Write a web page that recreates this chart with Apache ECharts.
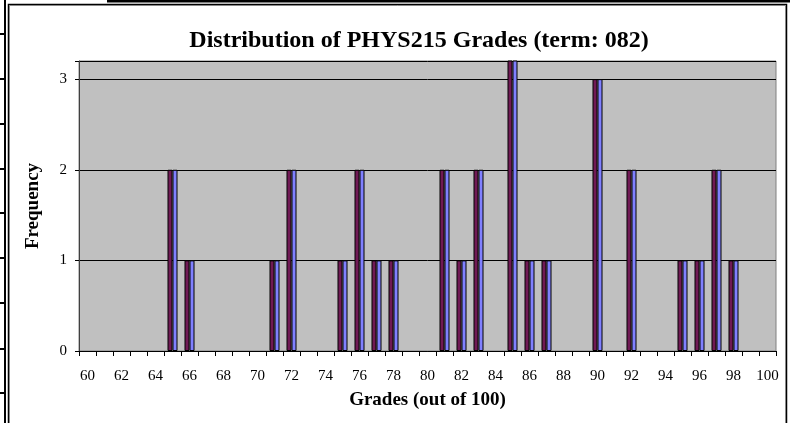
<!DOCTYPE html>
<html>
<head>
<meta charset="utf-8">
<script src="https://cdn.jsdelivr.net/npm/echarts@6/dist/echarts.min.js"></script>
<style>html,body{margin:0;padding:0;background:#fff;}#c{width:790px;height:423px;}</style>
</head>
<body>
<div id="c"></div>
<script>
var categories = ['60','61','62','63','64','65','66','67','68','69','70','71','72','73','74','75','76','77','78','79','80','81','82','83','84','85','86','87','88','89','90','91','92','93','94','95','96','97','98','99','100'];
var grades = [65, 66, 71, 72, 75, 76, 77, 78, 81, 82, 83, 85, 86, 87, 90, 92, 95, 96, 97, 98];
var counts = [2, 1, 1, 2, 1, 2, 1, 1, 2, 1, 2, 4, 1, 1, 3, 2, 1, 1, 2, 1];
var yTicks = [0, 1, 2, 3];

var freq = categories.map(function (c) {
  var i = grades.indexOf(Number(c));
  return i >= 0 ? counts[i] : '-';
});

var serif = 'Liberation Serif, Times New Roman, serif';
var chart = echarts.init(document.getElementById('c'));

var stubs = [];
[34, 79, 124, 169, 213, 258, 303, 349, 393].forEach(function (y) {
  stubs.push({ type: 'line', shape: { x1: 0, y1: y, x2: 5, y2: y }, style: { stroke: '#000', lineWidth: 2 } });
});

chart.setOption({
  animation: false,
  title: {
    text: 'Distribution of PHYS215 Grades (term: 082)',
    left: 414, top: 24, textAlign: 'center',
    textStyle: { fontFamily: serif, fontSize: 24, fontWeight: 'bold', color: '#000' }
  },
  graphic: [
    { type: 'line', shape: { x1: 5, y1: 0, x2: 5, y2: 423 }, style: { stroke: '#000', lineWidth: 2 } },
    { type: 'line', shape: { x1: 107, y1: 1, x2: 790, y2: 1 }, style: { stroke: '#000', lineWidth: 3 } },
    { type: 'polyline', shape: { points: [[8.5, 423], [8.5, 4.5], [786.5, 4.5], [786.5, 423]] }, style: { stroke: '#000', lineWidth: 1.5, fill: null } },
    { type: 'polyline', shape: { points: [[9.5, 423], [9.5, 5.5], [785.5, 5.5], [785.5, 423]] }, style: { stroke: '#888', lineWidth: 1, fill: null } }
  ].concat(stubs),
  grid: {
    left: 79, top: 61, right: 14, bottom: 72,
    show: true, backgroundColor: '#c0c0c0', borderColor: '#808080', borderWidth: 1
  },
  xAxis: {
    type: 'category',
    data: categories,
    boundaryGap: true,
    name: 'Grades (out of 100)',
    nameLocation: 'middle',
    nameGap: 40,
    nameTextStyle: { fontFamily: serif, fontSize: 19, fontWeight: 'bold', color: '#000' },
    axisLine: { lineStyle: { color: '#000', width: 1 } },
    axisTick: { show: true, interval: 0, length: 5, lineStyle: { color: '#000' } },
    axisLabel: { interval: 1, margin: 18, fontFamily: serif, fontSize: 15, color: '#000' },
    splitLine: { show: false }
  },
  yAxis: {
    type: 'value',
    min: 0, max: 3.2, interval: 1,
    name: 'Frequency',
    nameLocation: 'middle',
    nameGap: 36,
    nameRotate: 90,
    nameTextStyle: { fontFamily: serif, fontSize: 19, fontWeight: 'bold', color: '#000' },
    axisLine: { show: true, lineStyle: { color: '#404040', width: 1 } },
    axisTick: { show: true, length: 4, lineStyle: { color: '#000' } },
    axisLabel: {
      margin: 12, fontFamily: serif, fontSize: 15, color: '#000',
      formatter: function (v) { return yTicks.indexOf(v) >= 0 ? String(v) : ''; }
    },
    splitLine: { show: true, lineStyle: { color: '#000', width: 1 } }
  },
  series: [
    {
      type: 'bar', data: freq, barWidth: 5, barGap: '0%', clip: true,
      itemStyle: { color: '#701a55', borderColor: '#000', borderWidth: 1 }
    },
    {
      type: 'bar', data: freq, barWidth: 5, barGap: '0%', clip: true,
      itemStyle: { color: '#8080ff', borderColor: '#000', borderWidth: 1 }
    }
  ]
});
</script>
</body>
</html>
